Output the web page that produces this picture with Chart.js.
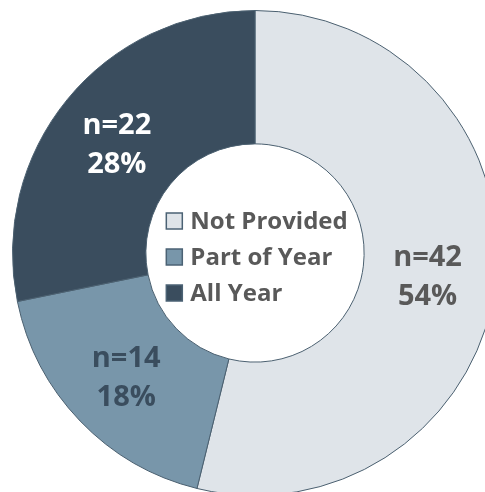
<!DOCTYPE html>
<html lang="en">
<head>
    <meta charset="UTF-8">
    <title>Provision by year</title>
    <script src="https://cdn.jsdelivr.net/npm/chart.js"></script>
    <style>
        html, body { margin: 0; padding: 0; background: #fff; overflow: hidden; }
        .wrap { position: absolute; left: 0; top: 0; width: 510px; height: 506px; }
    </style>
</head>
<body>
<div class="wrap"><canvas id="donut"></canvas></div>
<script>
    const categories = ['Not Provided', 'Part of Year', 'All Year'];
    const counts = [42, 14, 22];
    const percents = ['54%', '18%', '28%'];
    const fills = ['#DFE4E9', '#7896AA', '#3A4D5E'];
    const labelColors = ['#595959', '#3A4D5E', '#FFFFFF'];

    const FONT = '"Open Sans", "Liberation Sans", sans-serif';

    // n= / % labels on each slice
    const sliceLabels = {
        id: 'sliceLabels',
        afterDatasetsDraw(chart) {
            const ctx = chart.ctx;
            const meta = chart.getDatasetMeta(0);
            ctx.save();
            ctx.font = 'bold 29px ' + FONT;
            ctx.textAlign = 'center';
            ctx.textBaseline = 'middle';
            meta.data.forEach((arc, i) => {
                const p = arc.getCenterPoint();
                ctx.fillStyle = labelColors[i];
                ctx.fillText('n=' + counts[i], p.x - 2, p.y - 16);
                ctx.fillText(percents[i], p.x - 2, p.y + 23);
            });
            ctx.restore();
        }
    };

    // legend drawn in the hole
    const centerLegend = {
        id: 'centerLegend',
        afterDatasetsDraw(chart) {
            const ctx = chart.ctx;
            const arc = chart.getDatasetMeta(0).data[0];
            ctx.save();
            ctx.font = 'bold 24px ' + FONT;
            ctx.textBaseline = 'middle';
            const widest = Math.max(...categories.map(c => ctx.measureText(c).width));
            const box = 16, gap = 8;
            const left = arc.x - (box + gap + widest) / 2 + 2;
            categories.forEach((c, i) => {
                const y = arc.y - 32 + i * 36;
                ctx.fillStyle = fills[i];
                ctx.fillRect(left, y - box / 2, box, box);
                ctx.strokeStyle = '#4B6274';
                ctx.lineWidth = 1.5;
                ctx.strokeRect(left, y - box / 2, box, box);
                ctx.fillStyle = '#595959';
                ctx.fillText(c, left + box + gap, y + 1);
            });
            ctx.restore();
        }
    };

    new Chart(document.getElementById('donut'), {
        type: 'doughnut',
        data: {
            labels: categories,
            datasets: [{
                data: counts,
                backgroundColor: fills,
                borderColor: '#4B6070',
                borderWidth: 1,
                hoverOffset: 0
            }]
        },
        options: {
            responsive: true,
            maintainAspectRatio: false,
            animation: false,
            cutout: '45%',
            layout: { padding: 10 },
            plugins: {
                legend: { display: false },
                tooltip: { enabled: false }
            }
        },
        plugins: [sliceLabels, centerLegend]
    });
</script>
</body>
</html>
